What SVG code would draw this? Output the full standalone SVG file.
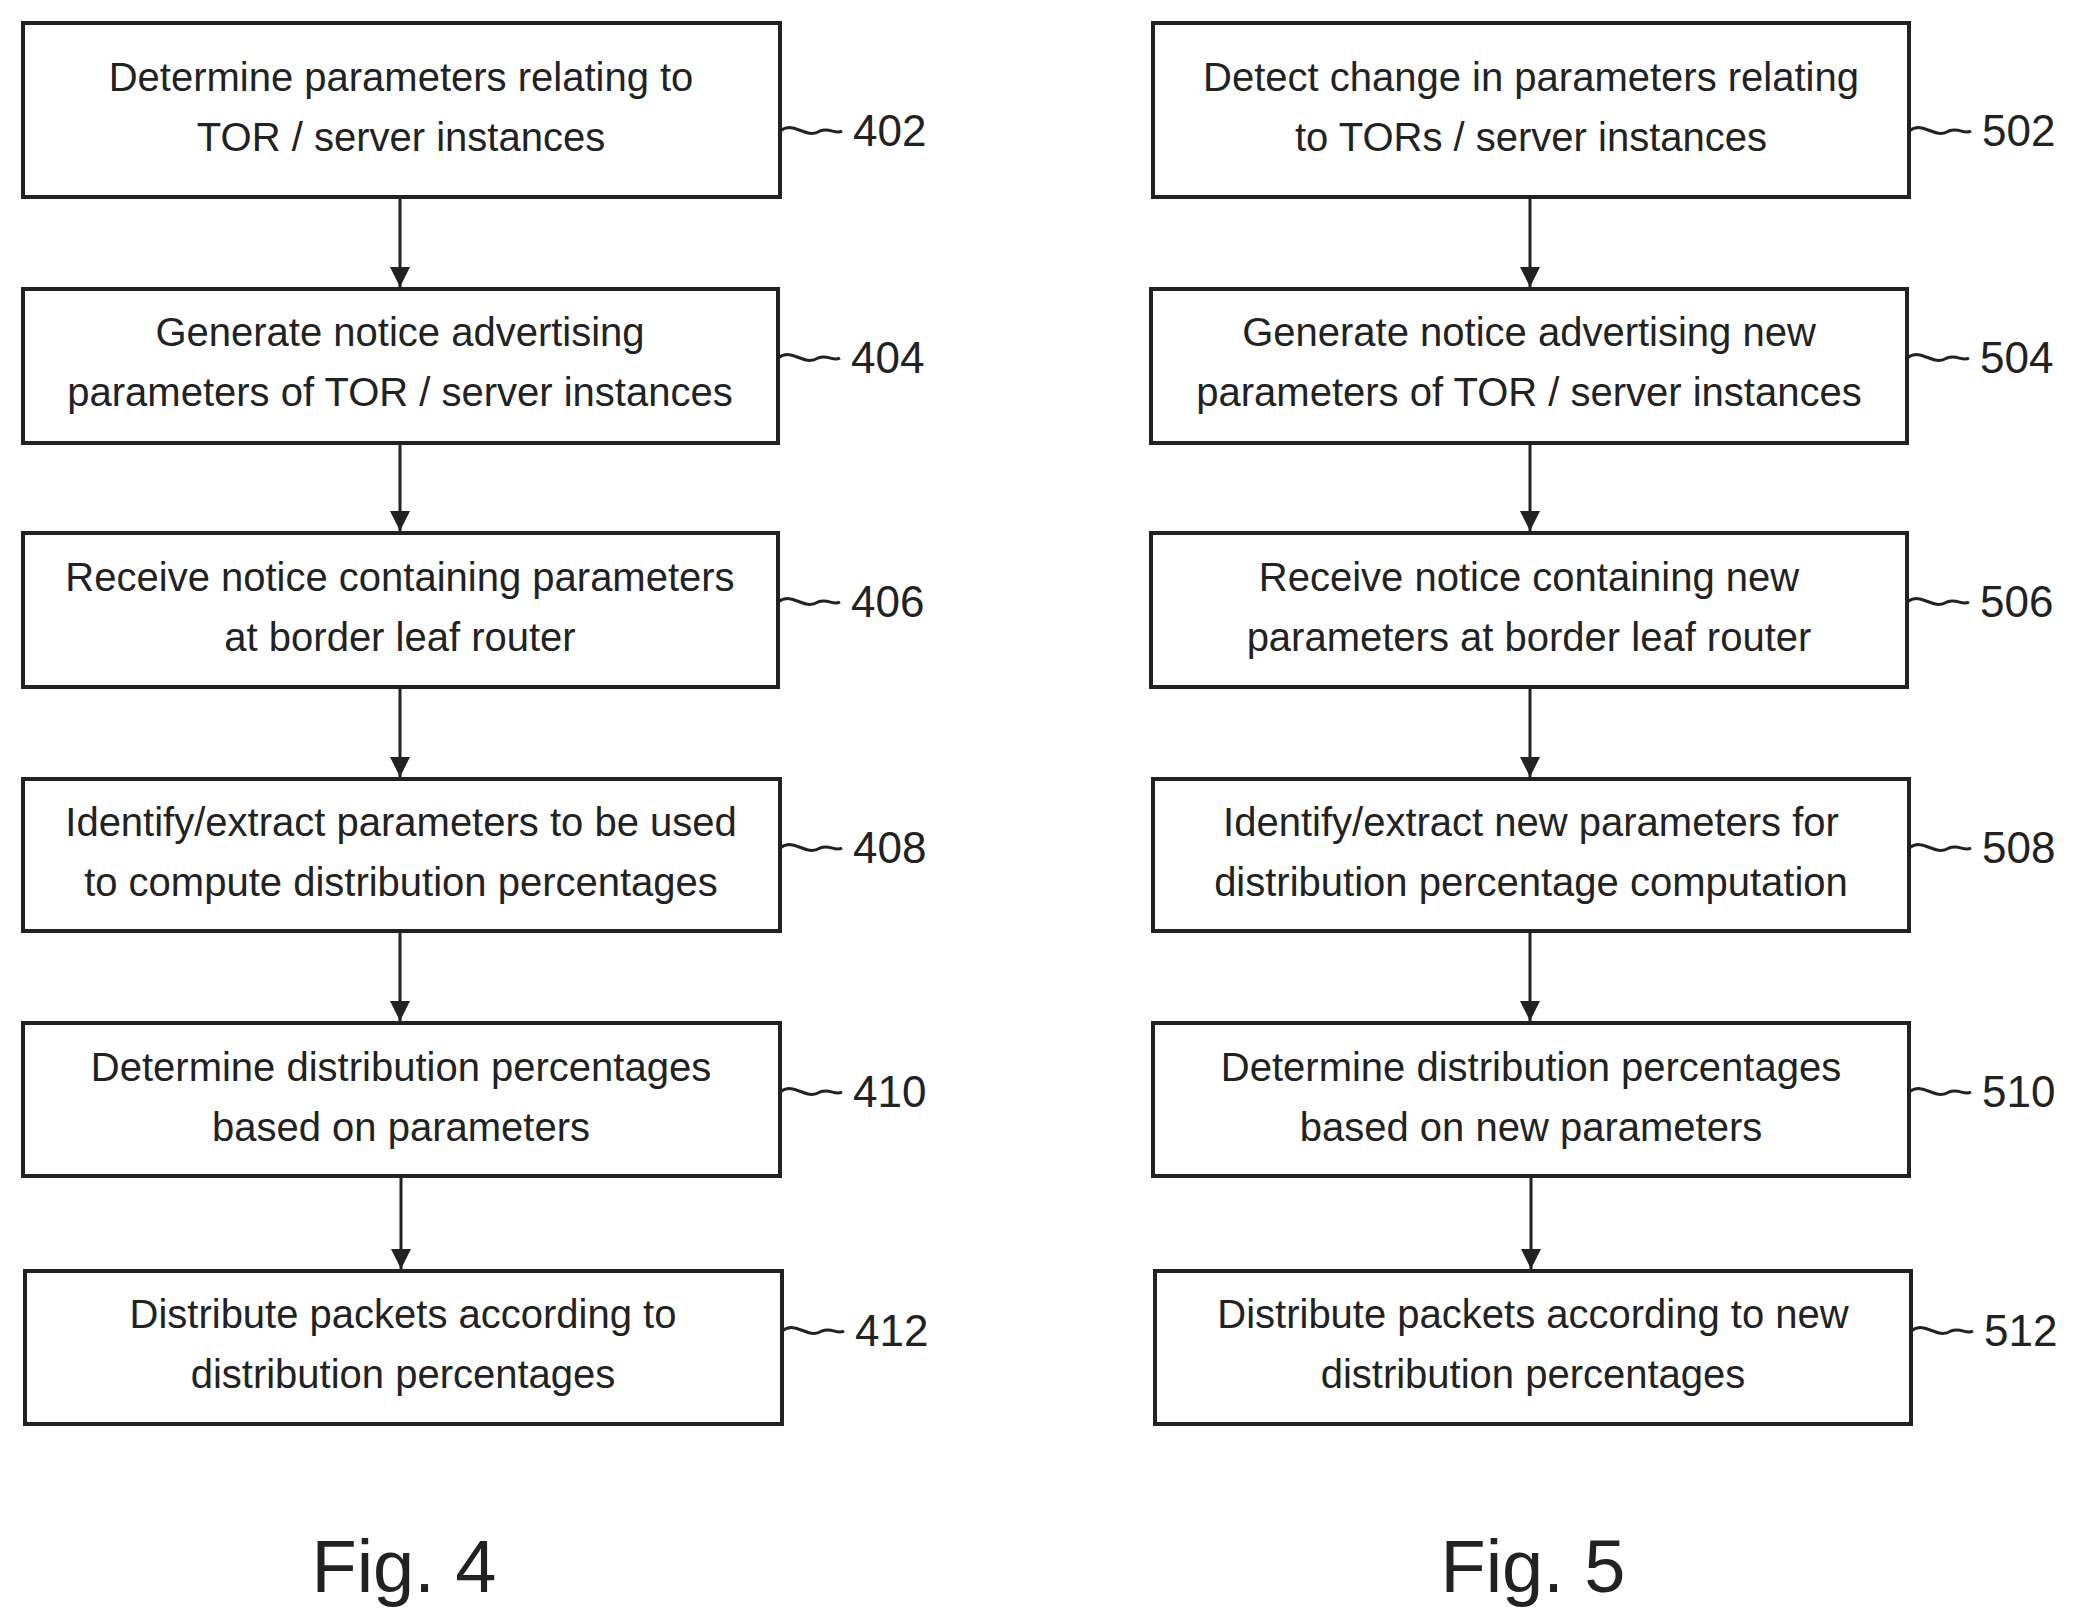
<svg xmlns="http://www.w3.org/2000/svg" width="2083" height="1624" viewBox="0 0 2083 1624">
<style>
.b{fill:#fff;stroke:#222;stroke-width:4}
.t{font-family:"Liberation Sans",Arial,sans-serif;font-size:40px;fill:#222;text-anchor:middle}
.n{font-family:"Liberation Sans",Arial,sans-serif;font-size:44px;fill:#222}
.f{font-family:"Liberation Sans",Arial,sans-serif;font-size:74px;fill:#222;text-anchor:middle}
.c{fill:none;stroke:#222;stroke-width:3}
</style>
<defs>
<marker id="ah" markerWidth="22" markerHeight="20" refX="20" refY="10" orient="auto" markerUnits="userSpaceOnUse"><path d="M0,0L20,10L0,20z" fill="#222"/></marker></defs>
<rect width="2083" height="1624" fill="#fff"/>
<g id="n402"><rect class="b" x="23" y="23" width="757" height="174"/><text class="t" x="401" y="91">Determine parameters relating to</text><text class="t" x="401" y="151">TOR / server instances</text><path class="c" d="M780,131 C795,120 805,140 820,131 C830,127 835,135 842,131"/><text class="n" x="853" y="146">402</text></g>
<g id="n404"><rect class="b" x="23" y="289" width="755" height="154"/><text class="t" x="400" y="346">Generate notice advertising</text><text class="t" x="400" y="406">parameters of TOR / server instances</text><path class="c" d="M778,358 C793,347 803,367 818,358 C828,354 833,362 840,358"/><text class="n" x="851" y="373">404</text></g>
<g id="n406"><rect class="b" x="23" y="533" width="755" height="154"/><text class="t" x="400" y="591">Receive notice containing parameters</text><text class="t" x="400" y="651">at border leaf router</text><path class="c" d="M778,602 C793,591 803,611 818,602 C828,598 833,606 840,602"/><text class="n" x="851" y="617">406</text></g>
<g id="n408"><rect class="b" x="23" y="779" width="757" height="152"/><text class="t" x="401" y="836">Identify/extract parameters to be used</text><text class="t" x="401" y="896">to compute distribution percentages</text><path class="c" d="M780,848 C795,837 805,857 820,848 C830,844 835,852 842,848"/><text class="n" x="853" y="863">408</text></g>
<g id="n410"><rect class="b" x="23" y="1023" width="757" height="153"/><text class="t" x="401" y="1081">Determine distribution percentages</text><text class="t" x="401" y="1141">based on parameters</text><path class="c" d="M780,1092 C795,1081 805,1101 820,1092 C830,1088 835,1096 842,1092"/><text class="n" x="853" y="1107">410</text></g>
<g id="n412"><rect class="b" x="25" y="1271" width="757" height="153"/><text class="t" x="403" y="1328">Distribute packets according to</text><text class="t" x="403" y="1388">distribution percentages</text><path class="c" d="M782,1331 C797,1320 807,1340 822,1331 C832,1327 837,1335 844,1331"/><text class="n" x="855" y="1346">412</text></g>
<g id="n502"><rect class="b" x="1153" y="23" width="756" height="174"/><text class="t" x="1531" y="91">Detect change in parameters relating</text><text class="t" x="1531" y="151">to TORs / server instances</text><path class="c" d="M1909,131 C1924,120 1934,140 1949,131 C1959,127 1964,135 1971,131"/><text class="n" x="1982" y="146">502</text></g>
<g id="n504"><rect class="b" x="1151" y="289" width="756" height="154"/><text class="t" x="1529" y="346">Generate notice advertising new</text><text class="t" x="1529" y="406">parameters of TOR / server instances</text><path class="c" d="M1907,358 C1922,347 1932,367 1947,358 C1957,354 1962,362 1969,358"/><text class="n" x="1980" y="373">504</text></g>
<g id="n506"><rect class="b" x="1151" y="533" width="756" height="154"/><text class="t" x="1529" y="591">Receive notice containing new</text><text class="t" x="1529" y="651">parameters at border leaf router</text><path class="c" d="M1907,602 C1922,591 1932,611 1947,602 C1957,598 1962,606 1969,602"/><text class="n" x="1980" y="617">506</text></g>
<g id="n508"><rect class="b" x="1153" y="779" width="756" height="152"/><text class="t" x="1531" y="836">Identify/extract new parameters for</text><text class="t" x="1531" y="896">distribution percentage computation</text><path class="c" d="M1909,848 C1924,837 1934,857 1949,848 C1959,844 1964,852 1971,848"/><text class="n" x="1982" y="863">508</text></g>
<g id="n510"><rect class="b" x="1153" y="1023" width="756" height="153"/><text class="t" x="1531" y="1081">Determine distribution percentages</text><text class="t" x="1531" y="1141">based on new parameters</text><path class="c" d="M1909,1092 C1924,1081 1934,1101 1949,1092 C1959,1088 1964,1096 1971,1092"/><text class="n" x="1982" y="1107">510</text></g>
<g id="n512"><rect class="b" x="1155" y="1271" width="756" height="153"/><text class="t" x="1533" y="1328">Distribute packets according to new</text><text class="t" x="1533" y="1388">distribution percentages</text><path class="c" d="M1911,1331 C1926,1320 1936,1340 1951,1331 C1961,1327 1966,1335 1973,1331"/><text class="n" x="1984" y="1346">512</text></g>
<g id="connectors" stroke="#222" stroke-width="3" marker-end="url(#ah)">
<line x1="400" y1="197" x2="400" y2="287"/><line x1="400" y1="443" x2="400" y2="531"/><line x1="400" y1="687" x2="400" y2="777"/><line x1="400" y1="931" x2="400" y2="1021"/><line x1="401" y1="1176" x2="401" y2="1269"/>
<line x1="1530" y1="197" x2="1530" y2="287"/><line x1="1530" y1="443" x2="1530" y2="531"/><line x1="1530" y1="687" x2="1530" y2="777"/><line x1="1530" y1="931" x2="1530" y2="1021"/><line x1="1531" y1="1176" x2="1531" y2="1269"/>
</g>
<text class="f" x="404" y="1592">Fig. 4</text>
<text class="f" x="1533" y="1592">Fig. 5</text>
</svg>
